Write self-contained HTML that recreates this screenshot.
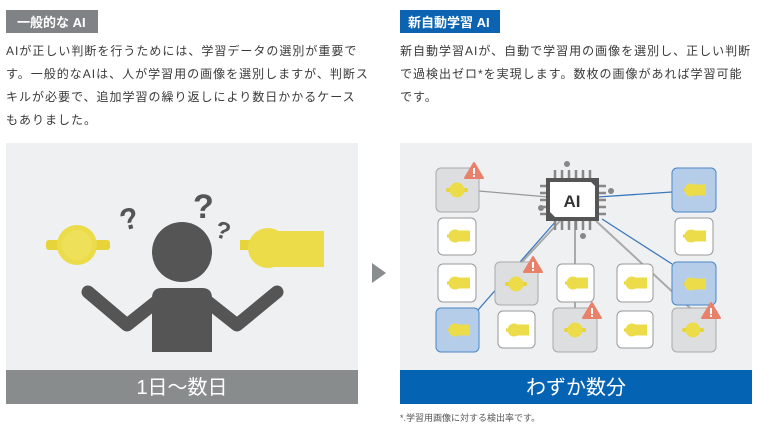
<!DOCTYPE html>
<html><head><meta charset="utf-8"><style>
html,body{margin:0;padding:0;background:#fff;width:761px;height:428px;overflow:hidden}
svg{display:block}
text{font-family:"Liberation Sans","Noto Sans CJK JP",sans-serif}
</style></head><body>
<svg width="761" height="428" viewBox="0 0 761 428" xmlns="http://www.w3.org/2000/svg">
<defs>
<g id="rnd"><rect x="-11" y="-2" width="22" height="4" rx="2" fill="#e6d43a"/><circle r="7.5" fill="#ecdc4a"/></g>
<g id="flt"><rect x="-12" y="-1.5" width="5" height="3" fill="#e6d43a"/><circle cx="-4" r="6.5" fill="#ecdc4a"/><rect x="-4" y="-5.5" width="15" height="11" fill="#ecdc4a"/></g>
<g id="warn"><path d="M0,-9 L9,6 L-9,6 Z" fill="#e8806a" stroke="#e8806a" stroke-linejoin="round" stroke-width="2"/><rect x="-1" y="-4" width="2" height="6" fill="#fff"/><rect x="-1" y="3" width="2" height="2" fill="#fff"/></g>
</defs>
<!-- headers -->
<rect x="6" y="10" width="92" height="23" fill="#7f8386"/>
<text x="17" y="27" font-size="13" font-weight="bold" fill="#fff">一般的な AI</text>
<rect x="400" y="10" width="100" height="23" fill="#0b63b1"/>
<text x="408" y="27" font-size="13" font-weight="bold" fill="#fff">新自動学習 AI</text>
<g font-size="12" fill="#3a3a3a" letter-spacing="1">
<text x="6" y="55">AIが正しい判断を行うためには、学習データの選別が重要で</text>
<text x="6" y="78">す。一般的なAIは、人が学習用の画像を選別しますが、判断ス</text>
<text x="6" y="101">キルが必要で、追加学習の繰り返しにより数日かかるケース</text>
<text x="6" y="124">もありました。</text>
<text x="400" y="55">新自動学習AIが、自動で学習用の画像を選別し、正しい判断</text>
<text x="400" y="78">で過検出ゼロ*を実現します。数枚の画像があれば学習可能</text>
<text x="400" y="101">です。</text>
</g>
<!-- left panel -->
<rect x="6" y="143" width="352" height="227" fill="#eef0f2"/>
<rect x="6" y="370" width="352" height="34" fill="#898c8d"/>
<text x="182" y="394" font-size="20" fill="#fff" text-anchor="middle">1日～数日</text>
<!-- person -->
<circle cx="182" cy="252" r="30" fill="#555"/>
<path d="M152,298 Q152,288 162,288 L202,288 Q212,288 212,298 L212,352 L152,352 Z" fill="#555"/>
<polyline points="88,292 127,325 156,302" fill="none" stroke="#555" stroke-width="13" stroke-linecap="round" stroke-linejoin="round"/>
<polyline points="277,292 237,325 208,302" fill="none" stroke="#555" stroke-width="13" stroke-linecap="round" stroke-linejoin="round"/>
<g fill="#555" font-weight="bold">
<text x="120" y="228" font-size="30" transform="rotate(-15 133 218)">?</text>
<text x="193" y="218" font-size="34">?</text>
<text x="216" y="240" font-size="24" transform="rotate(15 228 230)">?</text>
</g>
<!-- yellow parts left -->
<rect x="46" y="240" width="64" height="10" rx="3" fill="#e6d43a"/>
<circle cx="77" cy="245" r="20" fill="#ecdc4a"/>
<circle cx="77" cy="245" r="15" fill="#efe05a"/>
<rect x="240" y="240" width="12" height="10" fill="#e6d43a"/>
<circle cx="268" cy="248" r="20" fill="#ecdc4a"/>
<rect x="268" y="231" width="56" height="36" fill="#ecdc4a"/>
<!-- arrow -->
<path d="M372,263 L386,273 L372,283 Z" fill="#8a8d8e"/>
<!-- right panel -->
<rect x="400" y="143" width="352" height="227" fill="#eef0f2"/>
<rect x="400" y="370" width="352" height="34" fill="#0563b4"/>
<text x="576" y="394" font-size="20" fill="#fff" text-anchor="middle">わずか数分</text>
<text x="400" y="421" font-size="9" fill="#555">*.学習用画像に対する検出率です。</text>
<!-- lines -->
<g stroke-width="1.3" fill="none">
<line x1="479" y1="191" x2="548" y2="197" stroke="#999"/>
<line x1="598" y1="197" x2="672" y2="192" stroke="#3b78bd"/>
<line x1="556" y1="221" x2="478" y2="310" stroke="#3b78bd"/>
<line x1="560" y1="221" x2="522" y2="262" stroke="#aaa" stroke-width="2"/>
<line x1="575" y1="221" x2="575" y2="308" stroke="#aaa" stroke-width="2"/>
<line x1="596" y1="221" x2="690" y2="308" stroke="#aaa" stroke-width="2"/>
<line x1="602" y1="219" x2="672" y2="264" stroke="#3b78bd"/>
</g>
<!-- chip -->
<g stroke="#888" stroke-width="2.5">
<line x1="555" y1="170" x2="555" y2="230"/><line x1="562" y1="170" x2="562" y2="230"/><line x1="569" y1="170" x2="569" y2="230"/><line x1="576" y1="170" x2="576" y2="230"/><line x1="583" y1="170" x2="583" y2="230"/><line x1="590" y1="170" x2="590" y2="230"/>
<line x1="540" y1="186" x2="606" y2="186"/><line x1="540" y1="193" x2="606" y2="193"/><line x1="540" y1="200" x2="606" y2="200"/><line x1="540" y1="207" x2="606" y2="207"/><line x1="540" y1="214" x2="606" y2="214"/>
</g>
<circle cx="567" cy="164" r="3" fill="#888"/><circle cx="611" cy="191" r="3" fill="#888"/><circle cx="541" cy="208" r="3" fill="#888"/><circle cx="583" cy="236" r="3" fill="#888"/>
<rect x="546" y="178" width="53" height="43" fill="#555"/>
<path d="M550,182 L591,182 L595,186 L595,217 L555,217 L550,212 Z" fill="#fff"/>
<text x="572" y="207" font-size="17" font-weight="bold" fill="#333" text-anchor="middle">AI</text>
<!-- tiles -->
<g stroke-width="1">
<rect x="436" y="168" width="43" height="44" rx="5" fill="#dcdee0" stroke="#aaa"/>
<rect x="438" y="218" width="38" height="37" rx="5" fill="#fff" stroke="#999"/>
<rect x="438" y="264" width="38" height="38" rx="5" fill="#fff" stroke="#999"/>
<rect x="436" y="308" width="43" height="44" rx="5" fill="#b6cdea" stroke="#4a86c6"/>
<rect x="495" y="262" width="43" height="43" rx="5" fill="#dcdee0" stroke="#aaa"/>
<rect x="498" y="311" width="37" height="37" rx="5" fill="#fff" stroke="#999"/>
<rect x="557" y="264" width="37" height="38" rx="5" fill="#fff" stroke="#999"/>
<rect x="553" y="308" width="44" height="44" rx="5" fill="#dcdee0" stroke="#aaa"/>
<rect x="617" y="264" width="36" height="38" rx="5" fill="#fff" stroke="#999"/>
<rect x="617" y="311" width="36" height="37" rx="5" fill="#fff" stroke="#999"/>
<rect x="672" y="168" width="44" height="44" rx="5" fill="#b6cdea" stroke="#4a86c6"/>
<rect x="675" y="218" width="38" height="37" rx="5" fill="#fff" stroke="#999"/>
<rect x="672" y="262" width="44" height="43" rx="5" fill="#b6cdea" stroke="#4a86c6"/>
<rect x="672" y="308" width="44" height="44" rx="5" fill="#dcdee0" stroke="#aaa"/>
</g>
<use href="#rnd" x="457" y="190"/>
<use href="#flt" x="459" y="236"/>
<use href="#flt" x="459" y="283"/>
<use href="#flt" x="459" y="330"/>
<use href="#rnd" x="516" y="284"/>
<use href="#flt" x="518" y="330"/>
<use href="#flt" x="577" y="283"/>
<use href="#rnd" x="575" y="330"/>
<use href="#flt" x="636" y="283"/>
<use href="#flt" x="636" y="330"/>
<use href="#flt" x="695" y="190"/>
<use href="#flt" x="695" y="236"/>
<use href="#flt" x="695" y="284"/>
<use href="#rnd" x="693" y="330"/>
<use href="#warn" x="474" y="172"/>
<use href="#warn" x="533" y="266"/>
<use href="#warn" x="592" y="312"/>
<use href="#warn" x="711" y="312"/>
</svg>
</body></html>
